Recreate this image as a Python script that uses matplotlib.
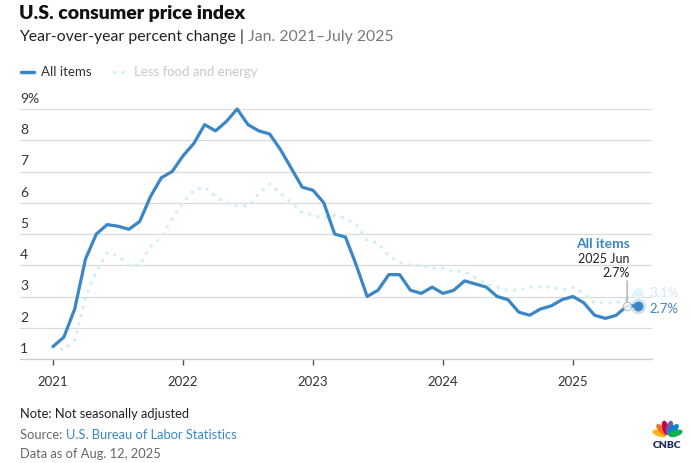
import math
import matplotlib
matplotlib.use("Agg")
import matplotlib.pyplot as plt
import matplotlib.transforms as mtransforms
from matplotlib.patches import Ellipse

plt.rcParams['font.family'] = ['Lato', 'DejaVu Sans']

# ---- data (YoY % change, monthly, Jan 2021 - Jul 2025) ----
all_items = [1.4, 1.7, 2.6, 4.2, 5.0, 5.3, 5.25, 5.15, 5.4, 6.2, 6.8, 7.0,
             7.5, 7.9, 8.5, 8.3, 8.6, 9.0, 8.5, 8.3, 8.2, 7.7, 7.1, 6.5,
             6.4, 6.0, 5.0, 4.9, 4.0, 3.0, 3.2, 3.7, 3.7, 3.2, 3.1, 3.3,
             3.1, 3.2, 3.5, 3.4, 3.3, 3.0, 2.9, 2.5, 2.4, 2.6, 2.7, 2.9,
             3.0, 2.8, 2.4, 2.3, 2.4, 2.7, 2.7]
core = [1.4, 1.3, 1.6, 3.0, 3.8, 4.4, 4.3, 4.0, 4.0, 4.6, 4.9, 5.5,
        6.0, 6.4, 6.5, 6.2, 6.0, 5.9, 5.9, 6.3, 6.6, 6.3, 6.0, 5.7,
        5.6, 5.5, 5.6, 5.5, 5.3, 4.8, 4.7, 4.3, 4.1, 4.0, 4.0, 3.9,
        3.9, 3.8, 3.8, 3.6, 3.4, 3.3, 3.2, 3.2, 3.3, 3.3, 3.3, 3.2,
        3.3, 3.1, 2.8, 2.8, 2.8, 2.9, 3.1]
months = list(range(len(all_items)))          # 0 = Jan 2021
year_ticks = [0, 12, 24, 36, 48]
year_labels = ['2021', '2022', '2023', '2024', '2025']
y_ticks = [1, 2, 3, 4, 5, 6, 7, 8, 9]
y_labels = ['1', '2', '3', '4', '5', '6', '7', '8', '9%']
hover_idx = 53                                 # Jun 2025

BLUE = '#3a86c6'
CYAN = '#cdeff8'
W, H = 691, 463

fig = plt.figure(figsize=(W / 100, H / 100), dpi=100)

def fx(x):
    return x / W

def fy(y):
    return 1 - y / H

ax = fig.add_axes([fx(20), fy(359), (652 - 20) / W, (359 - 109) / H])
ax.set_xlim(-3.05, 55.3)
ax.set_ylim(1, 9)
for s in ['top', 'right', 'left']:
    ax.spines[s].set_visible(False)
ax.spines['bottom'].set_color('#cfcfcf')
ax.spines['bottom'].set_linewidth(1)
ax.set_yticks(y_ticks)
ax.yaxis.grid(True, color='#dadada', linewidth=0.9)
ax.set_axisbelow(True)
ax.tick_params(axis='y', left=False, labelleft=False)
ax.set_xticks(year_ticks)
ax.set_xticklabels(year_labels, fontsize=9.5, color='#333333')
ax.tick_params(axis='x', length=4, width=1, color='#555555', pad=8)

# y labels above grid lines
trans = mtransforms.blended_transform_factory(ax.transAxes, ax.transData)
for v, lab in zip(y_ticks, y_labels):
    ax.annotate(lab, xy=(0, v), xycoords=trans, xytext=(0, 3),
                textcoords='offset points', ha='left', va='bottom',
                fontsize=10, color='#333333')

# lines
ax.plot(months, core, color=CYAN, lw=2.4, linestyle=(0, (0.05, 2.5)),
        dash_capstyle='round', solid_joinstyle='round', clip_on=False, zorder=2)
ax.plot(months, all_items, color=BLUE, lw=2.3, solid_joinstyle='round',
        solid_capstyle='round', clip_on=False, zorder=3)

# end markers
ax.plot(months[-1], core[-1], 'o', ms=8, color='#e2f5fb', mec='none', clip_on=False, zorder=2)
ax.plot(months[-1], all_items[-1], 'o', ms=11, color=BLUE, alpha=0.25, mec='none', clip_on=False, zorder=4)
ax.plot(months[-1], all_items[-1], 'o', ms=7, color=BLUE, mec='none', clip_on=False, zorder=5)
ax.annotate(f'{core[-1]}%', xy=(months[-1], core[-1]), xytext=(8, 0),
            textcoords='offset points', va='center', ha='left',
            fontsize=9.5, color='#d6e6ee', annotation_clip=False)
ax.annotate(f'{all_items[-1]}%', xy=(months[-1], all_items[-1]), xytext=(8, -2),
            textcoords='offset points', va='center', ha='left',
            fontsize=9.5, color=BLUE, annotation_clip=False)

# hover tooltip
hx, hy = months[hover_idx], all_items[hover_idx]
ax.plot(hx, hy, 'o', ms=6, mfc='white', mec='#aaaaaa', mew=0.8, zorder=6, alpha=0.8)
ax.annotate('', xy=(hx, hy), xytext=(0, 18), textcoords='offset points',
            xycoords='data', arrowprops=dict(arrowstyle='-', color='#999999', lw=0.8,
                                             shrinkA=0, shrinkB=3))
ax.annotate(f'{hy}%', xy=(hx, hy), xytext=(2, 19), textcoords='offset points',
            ha='right', va='bottom', fontsize=9, color='#222222')
ax.annotate('2025 Jun', xy=(hx, hy), xytext=(2, 29.5), textcoords='offset points',
            ha='right', va='bottom', fontsize=9, color='#222222')
ax.annotate('All items', xy=(hx, hy), xytext=(2, 40.5), textcoords='offset points',
            ha='right', va='bottom', fontsize=10, color=BLUE, fontweight='bold')

# title & subtitle
fig.text(fx(19), fy(14), 'U.S. consumer price index', fontsize=14, fontweight='heavy',
         color='#111111', va='center', ha='left')
t1 = fig.text(fx(19), fy(37), 'Year-over-year percent change | ', fontsize=11.4,
              color='#222222', va='center', ha='left')
ax.annotate('Jan. 2021\u2013July 2025', xy=(1, 0), xycoords=t1, va='bottom', ha='left',
            fontsize=11.4, color='#777777', annotation_clip=False)

# legend
fig.add_artist(plt.Line2D([fx(21), fx(34)], [fy(72), fy(72)], color=BLUE, lw=2.5,
                          solid_capstyle='round'))
fig.text(fx(41), fy(72), 'All items', fontsize=9.5, color='#333333', va='center')
fig.add_artist(plt.Line2D([fx(114), fx(123)], [fy(72), fy(72)], color=CYAN, lw=2.3,
                          linestyle=(0, (0.05, 2.6)), dash_capstyle='round'))
fig.text(fx(134), fy(72), 'Less food and energy', fontsize=9.5, color='#c8c8c8', va='center')

# footer
FS = 9.3
fig.text(fx(20), fy(414), 'Note: Not seasonally adjusted', fontsize=FS, color='#222222', va='center')
t2 = fig.text(fx(20), fy(435), 'Source: ', fontsize=FS, color='#666666', va='center')
ax.annotate('U.S. Bureau of Labor Statistics', xy=(1, 0), xycoords=t2, va='bottom',
            ha='left', fontsize=FS, color='#3a86c6', annotation_clip=False)
fig.text(fx(20), fy(454), 'Data as of Aug. 12, 2025', fontsize=FS, color='#666666', va='center')

# CNBC peacock logo (decorative)
cx, cy = 667.5, 436
colors = ['#fcb711', '#f37021', '#cc004c', '#6460aa', '#0089d0', '#0db14b']
angles = [162, 133, 104, 76, 47, 18]
for c, a in zip(colors, angles):
    r = 8.5
    ex = cx + r * math.cos(math.radians(a))
    ey = cy - r * math.sin(math.radians(a))
    e = Ellipse((fx(ex), fy(ey)), width=5.0 / W, height=13.0 / H, angle=0,
                transform=fig.transFigure, color=c)
    fig.add_artist(e)
    # rotate using display-aware transform
    e.set_transform(mtransforms.Affine2D().rotate_deg_around(ex, H - ey, a - 90) +
                    mtransforms.IdentityTransform())
    e.set_center((ex, H - ey))
    e.set_width(5.0)
    e.set_height(13.0)
fig.text(fx(667.5), fy(445), 'CNBC', fontsize=7.5, fontweight='heavy', color='#1d2b5c',
         ha='center', va='center')

fig.savefig('out.png', dpi=100)
